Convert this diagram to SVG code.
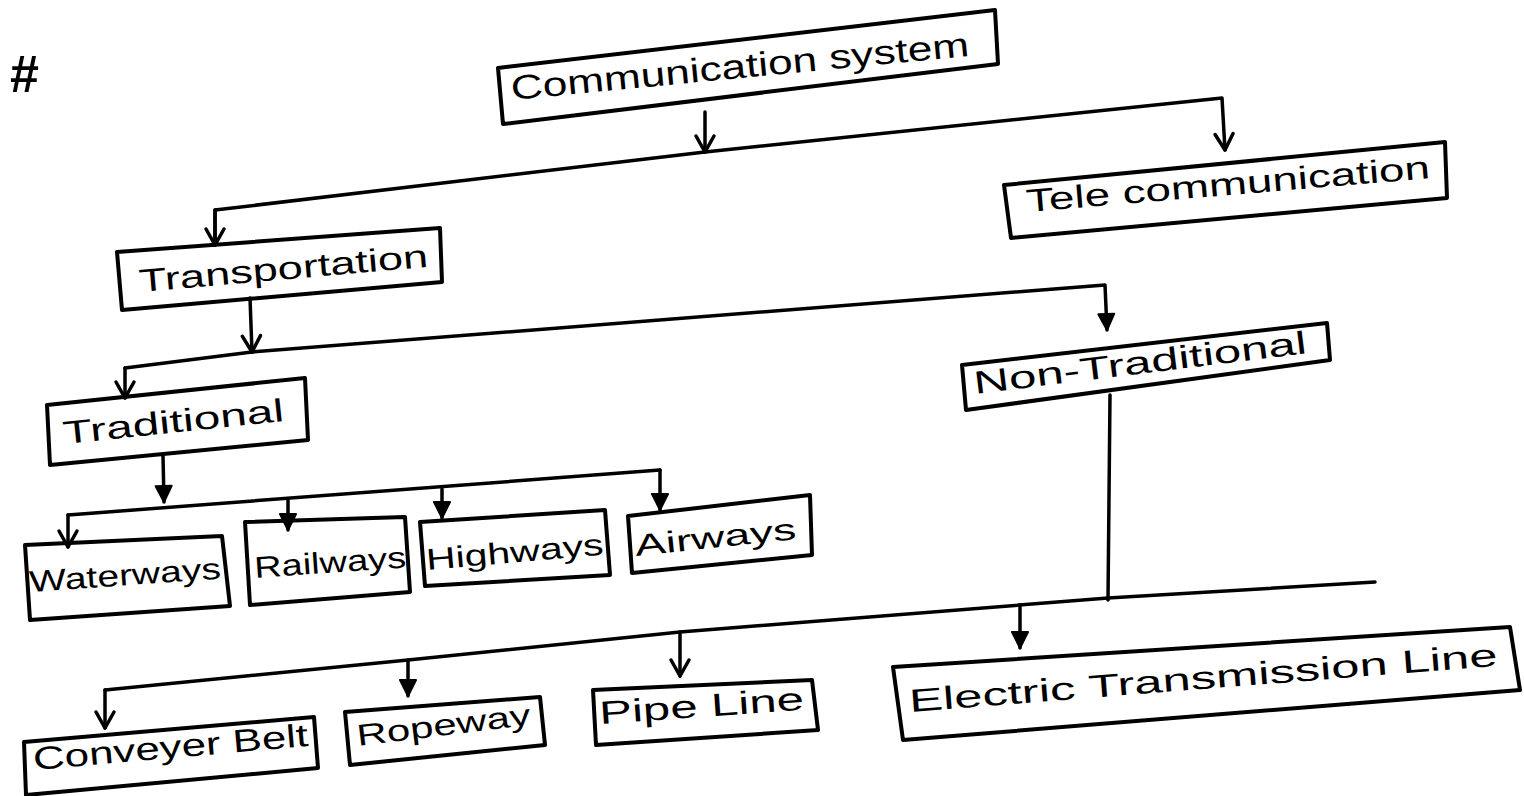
<svg xmlns="http://www.w3.org/2000/svg" width="1524" height="796" viewBox="0 0 1524 796">
<style>
.box{fill:none;stroke:#000;stroke-width:4;stroke-linejoin:round}
.ln{fill:none;stroke:#000;stroke-width:3.5;stroke-linecap:round;stroke-linejoin:round}
.t{font-family:"Liberation Sans",Arial,sans-serif;fill:#000}
</style>
<defs>
<marker id="open" markerUnits="userSpaceOnUse" markerWidth="30" markerHeight="30" orient="auto" overflow="visible">
<path d="M-16,-9 L0,0 L-16,9" fill="none" stroke="#000" stroke-width="3.5" stroke-linecap="round" stroke-linejoin="round"/>
</marker>
<marker id="fill" markerUnits="userSpaceOnUse" markerWidth="30" markerHeight="30" orient="auto" overflow="visible">
<path d="M-16,-8 L0,0 L-16,8 Z" fill="#000" stroke="#000" stroke-width="2" stroke-linejoin="round"/>
</marker>
</defs>
<rect width="1524" height="796" fill="#fff"/>
<text class="t" x="10" y="92" font-size="52" font-weight="bold">#</text>

<g id="connectors">
<path class="ln" d="M705,112 L705,152" marker-end="url(#open)"/>
<path class="ln" d="M215,245 L215,210 L705,152 L1222,98 L1225,150" marker-end="url(#open)"/>
<path class="ln" d="M215,210 L215,245" marker-end="url(#open)"/>
<path class="ln" d="M250,298 L252,352" marker-end="url(#open)"/>
<path class="ln" d="M125,368 L252,352 L1105,285 L1107,330" marker-end="url(#fill)"/>
<path class="ln" d="M125,368 L125,398" marker-end="url(#open)"/>
<path class="ln" d="M163,456 L164,502" marker-end="url(#fill)"/>
<path class="ln" d="M68,515 L660,470"/>
<path class="ln" d="M68,515 L68,547" marker-end="url(#open)"/>
<path class="ln" d="M288,500 L288,530" marker-end="url(#fill)"/>
<path class="ln" d="M442,489 L442,518" marker-end="url(#fill)"/>
<path class="ln" d="M660,470 L660,510" marker-end="url(#fill)"/>
<path class="ln" d="M1110,395 L1108,600"/>
<path class="ln" d="M1375,582 L1108,598 L680,632 L408,660 L105,690"/>
<path class="ln" d="M1020,605 L1020,648" marker-end="url(#fill)"/>
<path class="ln" d="M680,632 L680,676" marker-end="url(#open)"/>
<path class="ln" d="M408,660 L408,696" marker-end="url(#fill)"/>
<path class="ln" d="M105,690 L105,728" marker-end="url(#open)"/>
</g>

<g id="communication-system">
<polygon class="box" points="498,68 995,10 998,64 503,124"/>
<text class="t" font-size="34" textLength="460" lengthAdjust="spacingAndGlyphs" transform="translate(512,100) rotate(-5.5)">Communication system</text>
</g>
<g id="tele-communication">
<polygon class="box" points="1004,185 1445,142 1447,198 1011,238"/>
<text class="t" font-size="32" textLength="405" lengthAdjust="spacingAndGlyphs" transform="translate(1027,212) rotate(-4.8)">Tele communication</text>
</g>
<g id="transportation">
<polygon class="box" points="117,252 440,228 442,282 122,310"/>
<text class="t" font-size="32" textLength="290" lengthAdjust="spacingAndGlyphs" transform="translate(140,292) rotate(-5)">Transportation</text>
</g>
<g id="non-traditional">
<polygon class="box" points="962,365 1327,323 1330,360 966,410"/>
<text class="t" font-size="32" textLength="335" lengthAdjust="spacingAndGlyphs" transform="translate(975,394) rotate(-7)">Non-Traditional</text>
</g>
<g id="traditional">
<polygon class="box" points="47,405 305,378 308,440 50,465"/>
<text class="t" font-size="32" textLength="222" lengthAdjust="spacingAndGlyphs" transform="translate(64,444) rotate(-6)">Traditional</text>
</g>
<g id="waterways">
<polygon class="box" points="25,545 222,536 230,606 30,620"/>
<text class="t" font-size="30" textLength="192" lengthAdjust="spacingAndGlyphs" transform="translate(30,592) rotate(-4)">Waterways</text>
</g>
<g id="railways">
<polygon class="box" points="245,522 405,517 410,592 250,605"/>
<text class="t" font-size="30" textLength="152" lengthAdjust="spacingAndGlyphs" transform="translate(255,578) rotate(-4)">Railways</text>
</g>
<g id="highways">
<polygon class="box" points="420,522 605,510 610,575 425,586"/>
<text class="t" font-size="30" textLength="178" lengthAdjust="spacingAndGlyphs" transform="translate(427,570) rotate(-5)">Highways</text>
</g>
<g id="airways">
<polygon class="box" points="628,516 810,495 812,555 632,573"/>
<text class="t" font-size="30" textLength="162" lengthAdjust="spacingAndGlyphs" transform="translate(636,556) rotate(-6)">Airways</text>
</g>
<g id="conveyer-belt">
<polygon class="box" points="24,742 314,717 318,768 26,795"/>
<text class="t" font-size="32" textLength="276" lengthAdjust="spacingAndGlyphs" transform="translate(34,770) rotate(-5)">Conveyer Belt</text>
</g>
<g id="ropeway">
<polygon class="box" points="345,712 540,697 545,745 350,765"/>
<text class="t" font-size="30" textLength="175" lengthAdjust="spacingAndGlyphs" transform="translate(358,746) rotate(-7)">Ropeway</text>
</g>
<g id="pipe-line">
<polygon class="box" points="593,690 812,680 818,730 596,745"/>
<text class="t" font-size="32" textLength="205" lengthAdjust="spacingAndGlyphs" transform="translate(600,724) rotate(-4)">Pipe Line</text>
</g>
<g id="electric-transmission-line">
<polygon class="box" points="893,667 1510,627 1520,690 903,740"/>
<text class="t" font-size="32" textLength="590" lengthAdjust="spacingAndGlyphs" transform="translate(910,712) rotate(-4.5)">Electric Transmission Line</text>
</g>
</svg>
